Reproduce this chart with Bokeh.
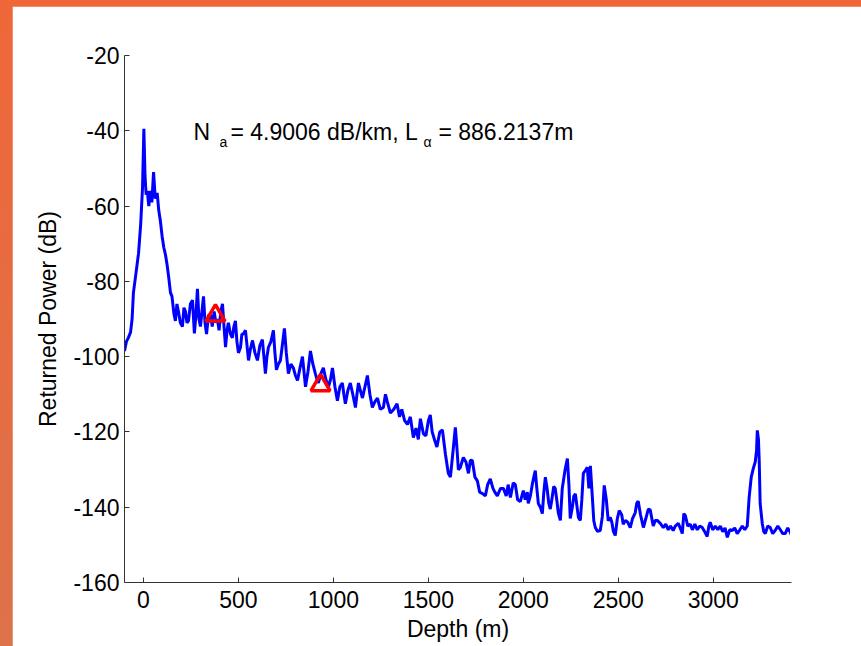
from bokeh.plotting import figure
from bokeh.models import Range1d, FixedTicker, Label, InlineStyleSheet
from bokeh.layouts import column
from bokeh.embed import file_html
from bokeh.resources import INLINE

depth = [-100, -90, -80, -68, -60, -53, -40, -26, -15, -5, 2, 8, 14, 20, 28, 36, 44, 53, 62, 72,
         80, 89, 98, 107, 116, 124, 133, 142, 150, 160, 168, 176, 184, 194, 205, 213, 221, 229, 237, 247,
         258, 268, 276, 284, 292, 300, 308, 316, 324, 332, 342, 353, 362, 372, 381, 389, 398, 407, 416, 424,
         432, 440, 447, 458, 468, 476, 484, 492, 500, 511, 518, 526, 537, 545, 553, 563, 574, 587, 600, 613,
         626, 634, 642, 650, 658, 671, 684, 692, 700, 710, 721, 731, 742, 752, 763, 776, 789, 800, 811, 824,
         837, 845, 853, 866, 879, 892, 905, 913, 921, 934, 947, 960, 974, 985, 995, 1008, 1021, 1034, 1047, 1055,
         1063, 1076, 1089, 1102, 1116, 1124, 1132, 1142, 1153, 1166, 1179, 1192, 1205, 1218, 1232, 1247, 1263, 1274, 1284, 1300,
         1318, 1335, 1348, 1360, 1375, 1390, 1405, 1421, 1435, 1447, 1458, 1474, 1487, 1500, 1510, 1520, 1532, 1545, 1560, 1574,
         1590, 1605, 1616, 1630, 1642, 1650, 1658, 1668, 1684, 1698, 1711, 1721, 1731, 1745, 1758, 1770, 1789, 1800, 1812, 1826,
         1840, 1850, 1863, 1880, 1895, 1910, 1920, 1932, 1947, 1958, 1970, 1984, 2000, 2010, 2021, 2026, 2037, 2047, 2055, 2063,
         2071, 2079, 2090, 2100, 2108, 2116, 2125, 2134, 2142, 2150, 2160, 2168, 2176, 2184, 2195, 2205, 2211, 2220, 2232, 2240,
         2247, 2258, 2266, 2274, 2283, 2290, 2300, 2308, 2316, 2326, 2337, 2345, 2353, 2363, 2371, 2379, 2390, 2405, 2416, 2426,
         2437, 2447, 2458, 2466, 2474, 2484, 2495, 2505, 2518, 2526, 2537, 2550, 2563, 2575, 2589, 2597, 2605, 2617, 2632, 2645,
         2658, 2668, 2684, 2695, 2705, 2721, 2737, 2750, 2763, 2775, 2789, 2800, 2816, 2830, 2837, 2845, 2853, 2866, 2879, 2890,
         2903, 2916, 2929, 2942, 2955, 2968, 2977, 2984, 2997, 3011, 3024, 3037, 3050, 3062, 3074, 3087, 3100, 3113, 3126, 3140,
         3153, 3166, 3179, 3189, 3200, 3211, 3221, 3228, 3232, 3238, 3242, 3247, 3258, 3266, 3274, 3287, 3300, 3313, 3326, 3340,
         3353, 3366, 3379, 3392, 3405, 3412]

power = [-98.5, -96, -95, -93.5, -90, -83, -78, -72.5, -65, -55, -39.5, -52, -57, -56, -60, -56, -59, -51, -58, -56.5,
         -61, -64, -68, -71, -73, -75.5, -79, -83, -84, -88.5, -90.5, -86, -88, -91, -92, -87, -88, -91, -90.5, -86,
         -85, -93.8, -89, -82, -90, -92, -88, -84, -91, -94, -89, -89, -92, -88, -91, -90, -93, -88, -86, -92,
         -97.5, -93, -91, -94, -95, -92, -90.5, -96, -99, -97.5, -94, -94, -93, -97, -101, -98, -95.7, -99, -101, -97,
         -95.5, -100, -104.5, -100, -97.5, -96, -93, -99, -103.5, -102, -101, -97, -92.5, -99, -104.5, -102, -103, -105, -106.3, -103,
         -100, -104, -108, -104, -98.5, -102, -104.5, -106, -107, -104.5, -103, -106, -108, -106, -103, -108, -111.7, -108, -107, -110,
         -112.5, -109, -107, -110, -113.5, -110, -107, -109, -111, -108, -105, -110, -113.5, -112, -111, -114, -113.5, -110, -112, -115,
         -114, -112.5, -116, -114, -117, -118, -116, -121.5, -119, -122, -116.5, -120.5, -121, -117, -115.5, -120, -122, -124, -120, -119.5,
         -126, -131, -132, -125, -118.8, -124, -130, -129.5, -126.8, -128, -131, -127.6, -127.5, -132, -133, -136, -136.5, -137, -134, -132.5,
         -135, -136, -137, -135, -135, -137, -134, -137.4, -133.5, -134, -138, -138.5, -135.6, -138, -136, -139, -137, -134, -132, -130.3,
         -135, -139, -140, -141.7, -136, -132, -135, -139, -140.5, -138, -134.5, -135, -138, -141.5, -143.5, -135, -133, -130, -127.1, -134,
         -143, -140, -137, -136.5, -140, -142.7, -143.5, -138, -131, -130.3, -129.4, -135, -129, -137, -143.6, -145.4, -146.4, -146.2, -142.5, -134.2,
         -138, -143.6, -142.7, -144, -146.4, -147.5, -143, -140.9, -142, -144.5, -143.5, -144, -145.4, -143, -141.5, -139, -138.4, -142, -145.4, -143,
         -140.5, -140.7, -145, -143.5, -143.5, -144.3, -145.4, -144.5, -146, -145, -146.2, -145, -144.3, -146, -147, -141.7, -142.2, -145, -144.5, -146,
         -144.5, -146, -145, -145.4, -146.5, -147.8, -145, -144, -146, -145, -146, -145, -146.5, -145.5, -148, -146, -146.2, -145.5, -147, -146,
         -145, -146, -145, -137.4, -132, -129.7, -128, -125, -119.6, -122, -127.6, -139, -144.3, -146.5, -147, -145, -145.4, -147, -146.2, -145,
         -146, -147, -147, -145.5, -146.6, -147.5]

marker_depth = [379, 932]
marker_power = [-89.1, -107.6]

x_ticks = [0, 500, 1000, 1500, 2000, 2500, 3000]
y_ticks = [-160, -140, -120, -100, -80, -60, -40, -20]
y_tick_labels = ["-160", "-140", "-120", "-100", "-80", "-60", "-40", "-20"]

FONT = "Liberation Sans"

p = figure(width=849, height=640, output_backend="svg", toolbar_location=None,
           x_range=Range1d(-100, 3412), y_range=Range1d(-160, -20),
           min_border_left=112, min_border_right=70, min_border_top=49, min_border_bottom=64,
           background_fill_color="white", border_fill_color="white")
p.outline_line_color = "white"
p.outline_line_width = 2
p.grid.visible = False

p.line(depth, power, line_color="#0000FF", line_width=3)
p.scatter(marker_depth, marker_power, marker="triangle", size=19, fill_color=None,
          line_color="#FF0000", line_width=3.5)

for ax in (p.xaxis[0], p.yaxis[0]):
    ax.axis_line_color = "#333333"
    ax.major_tick_line_color = "#333333"
    ax.major_tick_in = 5
    ax.major_tick_out = 0
    ax.minor_tick_line_color = None
    ax.major_label_text_font = FONT
    ax.major_label_text_font_size = "23px"
    ax.major_label_text_color = "black"
    ax.axis_label_text_font = FONT
    ax.axis_label_text_font_size = "23px"
    ax.axis_label_text_font_style = "normal"
    ax.axis_label_text_color = "black"

p.xaxis.ticker = FixedTicker(ticks=x_ticks)
p.yaxis.ticker = FixedTicker(ticks=y_ticks)
p.yaxis.major_label_overrides = {t: s for t, s in zip(y_ticks, y_tick_labels)}
p.xaxis.axis_label = "Depth (m)"
p.yaxis.axis_label = "Returned Power (dB)"
p.xaxis.major_label_standoff = 8
p.yaxis.major_label_standoff = 5
p.xaxis.axis_label_standoff = 5
p.yaxis.axis_label_standoff = 9

pieces = [
    ("N", 263, -40.2, "23px"),
    ("a", 400, -42.9, "14px"),
    ("= 4.9006 dB/km, L", 458, -40.2, "23px"),
    ("\u03b1", 1474, -43.1, "14px"),
    ("= 886.2137m", 1553, -40.2, "23px"),
]
for txt, x, y, fs in pieces:
    p.add_layout(Label(x=x, y=y, text=txt, text_font=FONT, text_font_size=fs,
                       text_color="black", text_baseline="alphabetic", text_align="left"))

# white strips masking the light frame edge along the top and right of the plot box
mask_css = InlineStyleSheet(css="""
:host::before {
  content: ""; position: absolute; left: 130px; top: 53px; width: 665px; height: 4px;
  background: #ffffff; z-index: 50; pointer-events: none;
}
:host::after {
  content: ""; position: absolute; left: 790px; top: 50px; width: 5px; height: 530px;
  background: #ffffff; z-index: 50; pointer-events: none;
}
""")

lay = column(p, styles={"background": "linear-gradient(#EF6739, #DD724B)",
                        "padding": "6px 0px 0px 12px", "position": "relative"},
             stylesheets=[mask_css])

open("out.html", "w").write(file_html(lay, INLINE))
